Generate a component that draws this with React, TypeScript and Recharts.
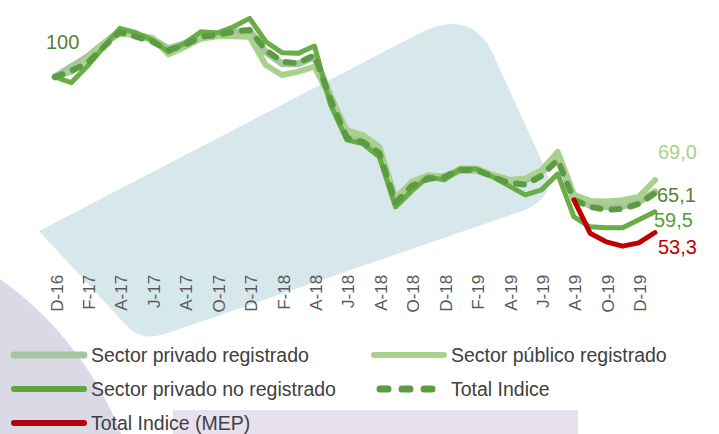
import React from "react";
import { LineChart, Line, XAxis, YAxis } from "recharts";

const meses = [
  "D-16", "E-17", "F-17", "M-17", "A-17", "M-17", "J-17", "J-17", "A-17", "S-17",
  "O-17", "N-17", "D-17", "E-18", "F-18", "M-18", "A-18", "M-18", "J-18", "J-18",
  "A-18", "S-18", "O-18", "N-18", "D-18", "E-19", "F-19", "M-19", "A-19", "M-19",
  "J-19", "J-19", "A-19", "S-19", "O-19", "N-19", "D-19", "E-20",
];

const privadoRegistrado = [
  100, 103, 106, 110, 113.8, 112.5, 111.3, 108.5, 110, 112.5,
  113, 113.5, 113.8, 107.5, 104, 104, 106, 94, 83, 81.5,
  78, 63, 67.5, 70, 70, 72, 72, 70.5, 69, 69,
  71.5, 76.5, 63.5, 61.5, 61, 61.2, 62.5, 65.5,
];

const publicoRegistrado = [
  100, 101.5, 105.5, 110, 113, 112.6, 111.8, 106.8, 109, 111.5,
  112.2, 112.2, 112.1, 103.6, 100.6, 101.6, 103.1, 93.5, 84, 82.5,
  79, 63.5, 68.5, 70.5, 70, 72.5, 72.5, 70.5, 69, 69.5,
  72, 77.5, 64.6, 62.8, 62.6, 63, 64, 69.0,
];

const privadoNoRegistrado = [
  100, 98.3, 103.3, 109, 114.6, 113.3, 111.1, 107.6, 110.1, 113.6,
  113.2, 115.1, 117.6, 110.6, 107.3, 107.1, 109.3, 91.6, 81.1, 79.9,
  76, 61, 65.8, 70, 69.1, 72.4, 72.4, 70, 67.3, 64.6,
  66.1, 70.9, 58, 55, 54.7, 54.7, 57.1, 59.5,
];

const totalIndice = [
  100, 101.8, 104.2, 109, 113.5, 112.1, 110.6, 108.1, 109.6, 112.1,
  112.6, 113.6, 114.1, 108.1, 104.6, 104.1, 106.6, 93.1, 81.7, 80.5,
  77.2, 62.2, 67.3, 69.4, 70, 72.1, 72.1, 70, 68.2, 67.7,
  70.3, 75.1, 63.1, 61, 60.1, 60.4, 61.9, 65.1,
];

const totalIndiceMep: (number | null)[] = [
  null, null, null, null, null, null, null, null, null, null,
  null, null, null, null, null, null, null, null, null, null,
  null, null, null, null, null, null, null, null, null, null,
  null, null, 63.1, 53.1, 50.5, 49.2, 50.2, 53.3,
];

const data = meses.map((mes, i) => ({
  mes,
  privReg: privadoRegistrado[i],
  publico: publicoRegistrado[i],
  privNoReg: privadoNoRegistrado[i],
  total: totalIndice[i],
  mep: totalIndiceMep[i],
}));

const LAST = meses.length - 1;
const FONT = "'Liberation Sans', Arial, sans-serif";

const fmt = (v: number) => (v === 100 ? "100" : v.toFixed(1).replace(".", ","));

// label only on chosen points
const endLabel =
  (color: string, dx: number, dy: number, first = false) =>
  (props: any) => {
    const { x, y, index, value } = props;
    if (index === LAST || (first && index === 0)) {
      const isFirst = index === 0;
      return (
        <text
          x={isFirst ? x - 9 : x + dx}
          y={isFirst ? y - 35 : y + dy}
          fill={color}
          fontSize={20}
          fontFamily={FONT}
          dominantBaseline="central"
          textAnchor="start"
        >
          {fmt(value)}
        </text>
      );
    }
    return <g />;
  };

const MesTick = (props: any) => {
  const { x, y, payload } = props;
  return (
    <g transform={`translate(${x + 2},${y - 2}) rotate(-90)`}>
      <text
        x={0}
        y={0}
        textAnchor="end"
        dominantBaseline="central"
        fill="#595959"
        fontSize={17}
        fontFamily={FONT}
      >
        {payload.value}
      </text>
    </g>
  );
};

const legendItems = [
  { label: "Sector privado registrado", color: "#a6c4a0", w: 7, dash: "", x: 14, len: 70, tx: 91, y: 355 },
  { label: "Sector público registrado", color: "#a9d18e", w: 6, dash: "", x: 374, len: 70, tx: 451, y: 355 },
  { label: "Sector privado no registrado", color: "#62a23f", w: 6, dash: "", x: 14, len: 70, tx: 91, y: 389 },
  { label: "Total Indice", color: "#5b9b41", w: 7, dash: "8 14", x: 380, len: 52, tx: 451, y: 389 },
  { label: "Total Indice (MEP)", color: "#b30012", w: 6, dash: "", x: 14, len: 70, tx: 91, y: 423 },
];

export default function App() {
  return (
    <div style={{ position: "absolute", left: 0, top: 0, width: 719, height: 434, overflow: "hidden", background: "#fff" }}>
      <svg width={719} height={434} style={{ position: "absolute", left: 0, top: 0 }}>
        <circle cx={-200} cy={560} r={345} fill="#d9dae6" />
        <path
          d="M 39 231 L 420 33 Q 470 8 492 52 L 546 170 Q 556 197 525 210 L 165 334 Q 140 342 125 324 Z"
          fill="#d6e8ec"
        />
        <rect x={173} y={410} width={405} height={24} fill="#e7e0ee" />
      </svg>

      <div style={{ position: "absolute", left: 0, top: 0 }}>
        <LineChart
          width={719}
          height={330}
          data={data}
          margin={{ top: 10.4, right: 64, left: 55, bottom: 3.2 }}
        >
          <XAxis
            dataKey="mes"
            interval={1}
            height={50}
            tickLine={false}
            axisLine={false}
            tickSize={0}
            tickMargin={0}
            tick={<MesTick />}
          />
          <YAxis hide type="number" domain={[40, 120]} />
          <Line
            dataKey="privReg"
            stroke="#a6c4a0"
            strokeWidth={7}
            dot={false}
            activeDot={false}
            strokeLinejoin="round"
            strokeLinecap="round"
            isAnimationActive={false}
          />
          <Line
            dataKey="publico"
            stroke="#a9d18e"
            strokeWidth={6}
            dot={false}
            activeDot={false}
            strokeLinejoin="round"
            strokeLinecap="round"
            isAnimationActive={false}
            label={endLabel("#a9d18e", 3, -28)}
          />
          <Line
            dataKey="privNoReg"
            stroke="#6aac45"
            strokeWidth={5}
            dot={false}
            activeDot={false}
            strokeLinejoin="round"
            strokeLinecap="round"
            isAnimationActive={false}
            label={endLabel("#5e9a3a", -1, 8)}
          />
          <Line
            dataKey="total"
            stroke="#5b9b41"
            strokeWidth={6}
            strokeDasharray="8 11"
            dot={false}
            activeDot={false}
            strokeLinejoin="round"
            strokeLinecap="round"
            isAnimationActive={false}
            label={endLabel("#548235", 2, 2, true)}
          />
          <Line
            dataKey="mep"
            stroke="#c00000"
            strokeWidth={5}
            dot={false}
            activeDot={false}
            strokeLinejoin="round"
            strokeLinecap="round"
            isAnimationActive={false}
            label={endLabel("#c00000", 3, 14)}
          />
        </LineChart>
      </div>

      <svg width={719} height={434} style={{ position: "absolute", left: 0, top: 0, pointerEvents: "none" }}>
        {legendItems.map((it) => (
          <g key={it.label}>
            <line
              x1={it.x}
              x2={it.x + it.len}
              y1={it.y}
              y2={it.y}
              stroke={it.color}
              strokeWidth={it.w}
              strokeLinecap="round"
              strokeDasharray={it.dash || undefined}
            />
            <text
              x={it.tx}
              y={it.y}
              dominantBaseline="central"
              fill="#404040"
              fontSize={19.5}
              fontFamily={FONT}
            >
              {it.label}
            </text>
          </g>
        ))}
      </svg>
    </div>
  );
}
